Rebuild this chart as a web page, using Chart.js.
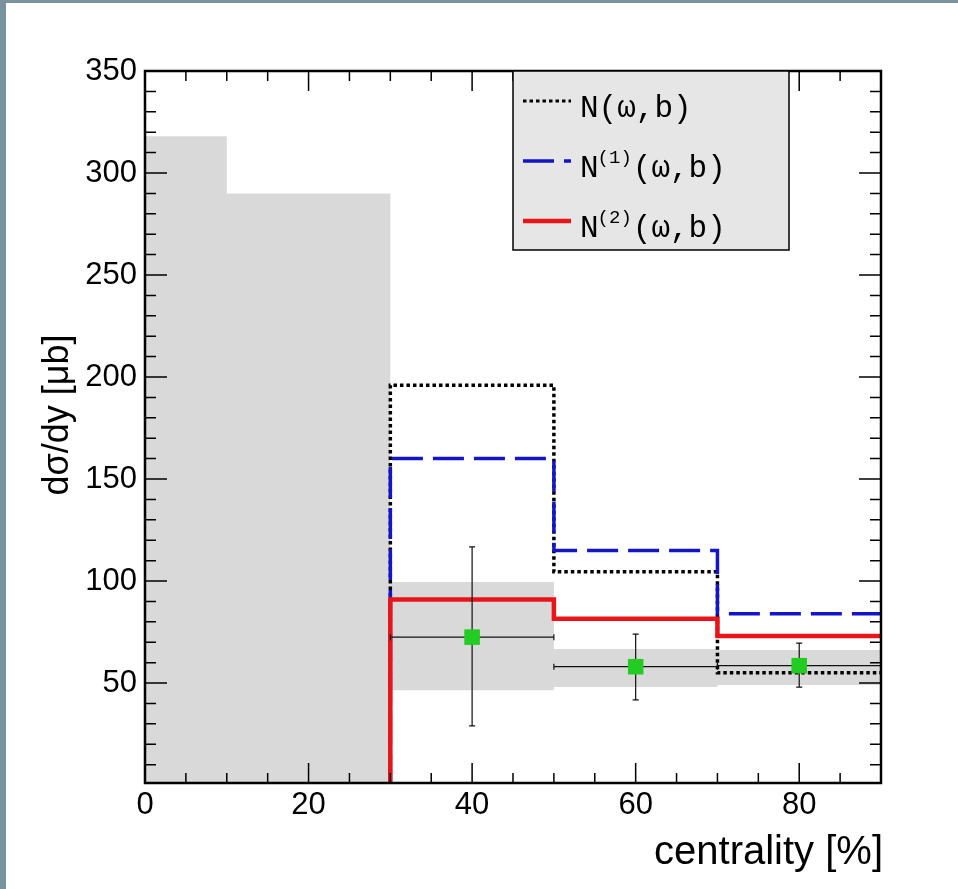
<!DOCTYPE html>
<html>
<head>
<meta charset="utf-8">
<script src="https://cdn.jsdelivr.net/npm/chart.js@4.4.1/dist/chart.umd.min.js"></script>
<style>
  html, body { margin: 0; padding: 0; background: #fff; }
  #edge { position: absolute; left: 0; top: 0; width: 958px; height: 889px; box-sizing: border-box;
          border-left: 6px solid #7a929c; border-top: 3px solid #7a929c; }
  #wrap { position: absolute; left: 0; top: 0; width: 958px; height: 889px; }
</style>
</head>
<body>
<div id="edge"></div>
<div id="wrap"><canvas id="chart"></canvas></div>
<script>
// grey bands (systematic / excluded region)
const bandEdges = [0, 10, 30, 50, 70, 90];
const bandLow = [0, 0, 46.5, 48, 49];
const bandHigh = [318, 290, 99.5, 66.7, 66.2];

// model histograms
const histEdges = [30, 50, 70, 90];
const histN = [196, 104.5, 55];
const histN1 = [160, 115, 84];
const histN2 = [91, 81.5, 73];

// measured points
const dataX = [40, 60, 80];
const dataXErr = [10, 10, 10];
const dataY = [72.5, 58, 58.5];
const dataYLow = [29, 41.7, 48];
const dataYHigh = [116.7, 74, 69.6];

const xTicks = [0, 20, 40, 60, 80];
const yTicks = [50, 100, 150, 200, 250, 300, 350];

const SANS = '"Liberation Sans", Arial, Helvetica, sans-serif';
const MONO = '"Liberation Mono", "Courier New", monospace';
const RED = '#e8141a';
const BLUE = '#1414c8';
const GREEN = '#22cc22';
const GREY = '#d9d9d9';

function steps(edges, vals) {
    const pts = [];
    vals.forEach((v, i) => {
        pts.push({ x: edges[i], y: v });
        pts.push({ x: edges[i + 1], y: v });
    });
    return pts;
}

const datasets = [];

datasets.push({
    id: 'pts',
    data: dataX.map((x, i) => ({ x: x, y: dataY[i] })),
    showLine: false,
    pointStyle: 'rect',
    pointRadius: 11,
    pointBorderWidth: 0,
    pointBackgroundColor: GREEN,
    order: 0,
});
datasets.push({
    data: [{ x: histEdges[0], y: 0 }].concat(steps(histEdges, histN2)),
    borderColor: RED, borderWidth: 4.5, pointRadius: 0, fill: false, order: 1,
});
datasets.push({
    data: [{ x: histEdges[0], y: 0 }].concat(steps(histEdges, histN1)),
    borderColor: BLUE, borderWidth: 3.5, borderDash: [31, 10], pointRadius: 0, fill: false, order: 2,
});
datasets.push({
    data: [{ x: histEdges[0], y: 0 }].concat(steps(histEdges, histN)),
    borderColor: '#000', borderWidth: 3.5, borderDash: [3.5, 3], pointRadius: 0, fill: false, order: 3,
});
// grey band: upper edge filled down to the lower edge
datasets.push({
    data: steps(bandEdges, bandHigh),
    borderColor: 'rgba(0,0,0,0)', borderWidth: 0, pointRadius: 0,
    backgroundColor: GREY, fill: '+1', order: 10,
});
datasets.push({
    data: steps(bandEdges, bandLow),
    borderColor: 'rgba(0,0,0,0)', borderWidth: 0, pointRadius: 0, fill: false, order: 11,
});

// error bars under the green squares
const errorBars = {
    id: 'errorBars',
    beforeDatasetDraw(chart, args) {
        if (chart.data.datasets[args.index].id !== 'pts') return;
        const xs = chart.scales.x, ys = chart.scales.y, ctx = chart.ctx;
        ctx.save();
        ctx.strokeStyle = '#111';
        ctx.lineWidth = 1.2;
        const cap = 3;
        dataX.forEach((x, i) => {
            const px = xs.getPixelForValue(x);
            const py = ys.getPixelForValue(dataY[i]);
            const x0 = xs.getPixelForValue(x - dataXErr[i]);
            const x1 = xs.getPixelForValue(x + dataXErr[i]);
            const y0 = ys.getPixelForValue(dataYLow[i]);
            const y1 = ys.getPixelForValue(dataYHigh[i]);
            ctx.beginPath();
            ctx.moveTo(x0, py); ctx.lineTo(x1, py);
            ctx.moveTo(x0, py - cap); ctx.lineTo(x0, py + cap);
            ctx.moveTo(x1, py - cap); ctx.lineTo(x1, py + cap);
            ctx.moveTo(px, y0); ctx.lineTo(px, y1);
            ctx.moveTo(px - cap, y0); ctx.lineTo(px + cap, y0);
            ctx.moveTo(px - cap, y1); ctx.lineTo(px + cap, y1);
            ctx.stroke();
        });
        ctx.restore();
    }
};

// ROOT-like frame, inward ticks, legend and axis titles
const decor = {
    id: 'decor',
    afterDraw(chart) {
        const ctx = chart.ctx, a = chart.chartArea;
        const xs = chart.scales.x, ys = chart.scales.y;
        ctx.save();
        ctx.strokeStyle = '#000';
        ctx.lineWidth = 1.5;
        ctx.beginPath();
        for (let v = 0; v <= 90; v += 5) {
            const p = xs.getPixelForValue(v);
            const len = v % 20 === 0 ? 20 : 10;
            ctx.moveTo(p, a.bottom); ctx.lineTo(p, a.bottom - len);
            ctx.moveTo(p, a.top); ctx.lineTo(p, a.top + len);
        }
        for (let v = 10; v <= 350; v += 10) {
            const p = ys.getPixelForValue(v);
            const len = v % 50 === 0 ? 22 : 11;
            ctx.moveTo(a.left, p); ctx.lineTo(a.left + len, p);
            ctx.moveTo(a.right, p); ctx.lineTo(a.right - len, p);
        }
        ctx.stroke();
        ctx.lineWidth = 2.5;
        ctx.strokeRect(a.left, a.top, a.right - a.left, a.bottom - a.top);

        // legend box
        const lx = 513, ly = a.top, lw = 276, lh = 179;
        ctx.fillStyle = '#e6e6e6';
        ctx.fillRect(lx, ly, lw, lh);
        ctx.lineWidth = 1.5;
        ctx.strokeRect(lx, ly, lw, lh);
        const rows = [
            { color: '#000', width: 3, dash: [3.5, 3], sup: '', y: 101 },
            { color: BLUE, width: 3.5, dash: [31, 10], sup: '(1)', y: 161 },
            { color: RED, width: 4.5, dash: [], sup: '(2)', y: 221 },
        ];
        rows.forEach(r => {
            ctx.beginPath();
            ctx.strokeStyle = r.color;
            ctx.lineWidth = r.width;
            ctx.setLineDash(r.dash);
            ctx.moveTo(523, r.y); ctx.lineTo(571, r.y);
            ctx.stroke();
            ctx.setLineDash([]);
            ctx.fillStyle = '#000';
            ctx.textAlign = 'left';
            ctx.textBaseline = 'alphabetic';
            ctx.font = '31px ' + MONO;
            const base = r.y + 16;
            ctx.fillText('N', 580, base);
            let x = 580 + ctx.measureText('N').width;
            if (r.sup) {
                ctx.font = '19px ' + MONO;
                ctx.fillText(r.sup, x - 1, base - 14);
                x += ctx.measureText(r.sup).width;
                ctx.font = '31px ' + MONO;
            }
            ctx.fillText('(ω,b)', x, base);
        });

        // axis titles
        ctx.fillStyle = '#000';
        ctx.font = '36px ' + SANS;
        ctx.save();
        ctx.translate(58, 415);
        ctx.rotate(-Math.PI / 2);
        ctx.textAlign = 'center';
        ctx.textBaseline = 'middle';
        ctx.fillText('dσ/dy [μb]', 0, 0);
        ctx.restore();
        ctx.font = '40px ' + SANS;
        ctx.textAlign = 'right';
        ctx.textBaseline = 'alphabetic';
        ctx.fillText('centrality [%]', 883, 864);
        ctx.restore();
    }
};

new Chart(document.getElementById('chart'), {
    type: 'line',
    data: { datasets: datasets },
    options: {
        responsive: true,
        maintainAspectRatio: false,
        animation: false,
        events: [],
        layout: { padding: { left: 0, top: 71, right: 77, bottom: 0 } },
        plugins: { legend: { display: false }, tooltip: { enabled: false } },
        scales: {
            x: {
                type: 'linear', min: 0, max: 90,
                grid: { display: false, drawTicks: false },
                border: { display: false },
                ticks: { color: '#000', font: { family: SANS, size: 31 }, padding: 4, maxRotation: 0 },
                afterBuildTicks: s => { s.ticks = xTicks.map(v => ({ value: v })); },
                afterFit: s => { s.height = 106; },
            },
            y: {
                type: 'linear', min: 1, max: 350,
                grid: { display: false, drawTicks: false },
                border: { display: false },
                ticks: { color: '#000', font: { family: SANS, size: 31 }, padding: 8 },
                afterBuildTicks: s => { s.ticks = yTicks.map(v => ({ value: v })); },
                afterFit: s => { s.width = 145; },
            },
        },
    },
    plugins: [errorBars, decor],
});
</script>
</body>
</html>
